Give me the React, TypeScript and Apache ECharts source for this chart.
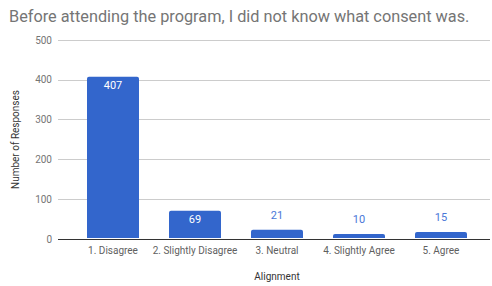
import React, { useEffect, useRef } from "react";
import * as echarts from "echarts";

const categories = ["1. Disagree", "2. Slightly Disagree", "3. Neutral", "4. Slightly Agree", "5. Agree"];
const responses = [407, 69, 21, 10, 15];
const yTicks = [0, 100, 200, 300, 400, 500];

const TITLE = "Before attending the program, I did not know what consent was.";
const BAR = "#3366cc";
const FONT = "Roboto, Arial, sans-serif";

export default function App() {
  const ref = useRef<HTMLDivElement>(null);
  useEffect(() => {
    if (!ref.current) return;
    const chart = echarts.init(ref.current, undefined, { renderer: "svg" });
    const yMax = yTicks[yTicks.length - 1];
    const data = responses.map((v) => {
      const inside = v > yMax * 0.1;
      return {
        value: v,
        label: inside
          ? { show: true, position: "insideTop", distance: 3, color: "#ffffff" }
          : { show: true, position: "top", distance: 9, color: "#4a78d8" },
      };
    });
    chart.setOption({
      animation: false,
      textStyle: { fontFamily: FONT },
      title: {
        text: TITLE,
        left: 4,
        top: 3,
        textStyle: { fontFamily: FONT, fontSize: 16.3, fontWeight: "normal", color: "#757575" },
      },
      grid: [
        { left: 58, right: 2, top: 40, bottom: 47 },
        { left: 72, right: 10, top: 40, bottom: 47 },
      ],
      xAxis: [
        {
          type: "value",
          gridIndex: 0,
          min: 0,
          max: 1,
          axisLine: { show: false },
          axisTick: { show: false },
          axisLabel: { show: false },
          splitLine: { show: false },
        },
        {
          type: "category",
          gridIndex: 1,
          data: categories,
          axisLine: { show: false },
          axisTick: { show: false },
          axisLabel: { interval: 0, fontSize: 10, color: "#5f5f5f", margin: 7, fontFamily: FONT },
          name: "Alignment",
          nameLocation: "middle",
          nameGap: 33,
          nameTextStyle: { fontSize: 10, color: "#333333", fontFamily: FONT },
        },
      ],
      yAxis: [
        {
          type: "value",
          gridIndex: 0,
          min: 0,
          max: yMax,
          interval: 100,
          axisLine: { show: false },
          axisTick: { show: false },
          axisLabel: { fontSize: 10, color: "#757575", margin: 6, fontFamily: FONT },
          splitLine: { lineStyle: { color: "#cccccc", width: 1 } },
          name: "Number of Responses",
          nameLocation: "middle",
          nameGap: 38,
          nameTextStyle: { fontSize: 10, color: "#333333", fontFamily: FONT },
        },
        {
          type: "value",
          gridIndex: 1,
          min: 0,
          max: yMax,
          interval: 100,
          show: false,
        },
      ],
      series: [
        {
          type: "bar",
          xAxisIndex: 1,
          yAxisIndex: 1,
          data,
          barWidth: 52,
          itemStyle: { color: BAR, borderRadius: [2, 2, 0, 0] },
          label: { fontSize: 11, fontFamily: FONT },
          z: 2,
        },
        {
          type: "line",
          xAxisIndex: 0,
          yAxisIndex: 0,
          data: [],
          markLine: {
            silent: true,
            symbol: "none",
            label: { show: false },
            lineStyle: { color: "#333333", width: 1, type: "solid" },
            data: [{ yAxis: 0 }],
          },
          z: 3,
        },
      ],
    });
    return () => chart.dispose();
  }, []);
  return <div ref={ref} style={{ width: 492, height: 286, position: "absolute", left: 0, top: 0 }} />;
}
